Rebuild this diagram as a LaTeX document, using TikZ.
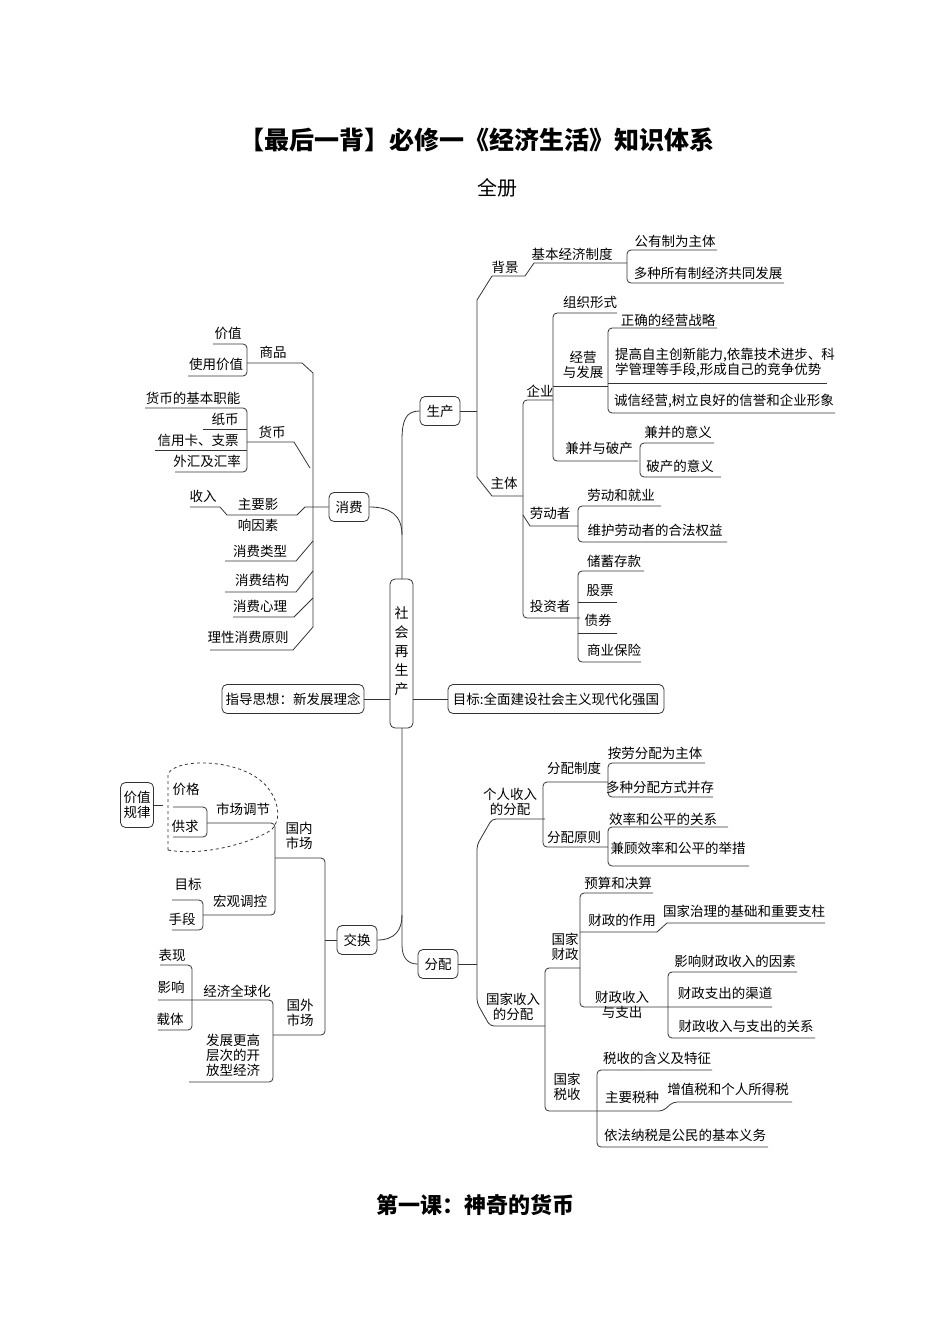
\documentclass[tikz,border=0pt]{standalone}
\usepackage{fontspec}
\setmainfont{Noto Sans CJK SC}
\begin{document}
\begin{tikzpicture}[x=1pt,y=-1pt,
  ln/.style={line width=0.8pt,draw=black!80},
  rc/.style={ln,rounded corners=4pt},
  tx/.style={font=\fontsize{13.5}{15}\selectfont,inner sep=0pt},
  bx/.style={draw=black!80,line width=0.8pt,rounded corners=5pt,font=\fontsize{13.5}{15}\selectfont,inner sep=3pt,minimum height=29pt}]
\useasboundingbox (0,0) rectangle (950,1344);
\newcommand\tx[3]{\node[tx,align=center] at (#1,#2) {#3};}
% titles
\node[font=\fontsize{25}{28}\selectfont\bfseries] (title) at (477,140) {【最后一背】必修一《经济生活》知识体系};
\node[font=\fontsize{20}{22}\selectfont] (sub) at (497,188) {全册};
\node[font=\fontsize{22}{25}\selectfont\bfseries] (foot) at (475,1205) {第一课：神奇的货币};
% center
\draw[ln,rounded corners=5pt] (390,579) rectangle (413,728);
\node[tx,align=center,font=\fontsize{14}{19}\selectfont] (core) at (401.5,651) {社\\会\\再\\生\\产};
\node[bx,minimum width=40pt] (sc) at (440,411) {生产};
\node[bx,minimum width=40pt] (xf) at (349,507) {消费};
\node[bx,minimum width=40pt] (jh) at (357,940) {交换};
\node[bx,minimum width=40pt] (fp) at (438,964) {分配};
\node[bx,minimum width=142pt] (zd) at (293,699) {指导思想：新发展理念};
\node[bx,minimum width=216pt] (mb) at (556,699) {目标:全面建设社会主义现代化强国};
\draw[ln] (zd.east) -- (390,699);
\draw[ln] (413,699) -- (mb.west);
\draw[ln] (sc.west) .. controls (406,411) and (402,420) .. (402,440) -- (402,579);
\draw[ln] (xf.east) .. controls (390,507) and (402,515) .. (402,535);
\draw[ln] (402,728) -- (402,945) .. controls (402,958) and (408,964) .. (fp.west);
\draw[ln] (jh.east) .. controls (395,940) and (402,930) .. (402,915);
% consumption
\tx{228}{333}{价值}\tx{216}{364}{使用价值}\tx{273}{352}{商品}
\draw[rc] (213,344)--(247,344)--(247,376)--(188,376);
\draw[ln] (247,363)--(302,363)--(313,373)--(313,627);
\tx{193}{398}{货币的基本职能}\tx{225}{419}{纸币}\tx{198}{440}{信用卡、支票}\tx{207}{461}{外汇及汇率}\tx{272}{432}{货币}
\draw[rc] (145,408)--(247,408)--(247,472)--(175,472);
\draw[ln] (203,429)--(247,429);\draw[ln] (155,450)--(247,450);
\draw[ln] (247,442)--(294,442)--(310,468);
\tx{203}{496}{收入}\tx{258}{504}{主要影}\tx{258}{525}{响因素}
\draw[ln] (190,507)--(220,507)--(227,515)--(297,515)--(305,507)--(xf.west);
\tx{260}{551}{消费类型}\draw[ln] (225,561)--(296,561)--(313,541);
\tx{262}{580}{消费结构}\draw[ln] (225,592)--(296,592)--(313,571);
\tx{260}{606}{消费心理}\draw[ln] (233,617)--(294,617)--(313,598);
\tx{248}{637}{理性消费原则}\draw[ln] (210,650)--(293,650)--(313,627);
% production
\draw[ln] (sc.east)--(477,411);
\draw[ln] (525,276)--(492,276)--(477,300)--(477,477)--(492,496)--(523,496);
\draw[ln] (525,276)--(534,263)--(627,263);
\tx{505}{267}{背景}\tx{572}{254}{基本经济制度}\tx{675}{241}{公有制为主体}\tx{708}{273}{多种所有制经济共同发展}
\draw[rc] (717,250)--(627,250)--(627,283)--(784,283);
\tx{504}{483}{主体}
\draw[rc] (553,400)--(523,400)--(523,618)--(580,618);
\tx{540}{391}{企业}
\draw[rc] (617,313)--(553,313)--(553,461)--(638,461);
\tx{590}{302}{组织形式}
\tx{583}{365}{经营\\与发展}
\draw[ln] (553,386)--(608,386);
\draw[rc] (717,328)--(608,328)--(608,413)--(835,413);
\draw[ln] (608,383)--(827,383);
\tx{668}{320}{正确的经营战略}
\node[tx,align=left,anchor=west] at (615,363) {提高自主创新能力,依靠技术进步、科\\学管理等手段,形成自己的竞争优势};
\tx{724}{401}{诚信经营,树立良好的信誉和企业形象}
\tx{599}{448}{兼并与破产}
\draw[rc] (714,443)--(640,443)--(640,477)--(721,477);
\tx{678}{432}{兼并的意义}\tx{680}{466}{破产的意义}
\tx{550}{513}{劳动者}
\draw[ln] (523,515)--(530,526)--(578,526);
\draw[rc] (661,506)--(578,506)--(578,542)--(727,542);
\tx{621}{495}{劳动和就业}\tx{655}{530}{维护劳动者的合法权益}
\tx{550}{606}{投资者}
\draw[rc] (644,571)--(578,571)--(578,662)--(641,662);
\draw[ln] (578,602)--(617,602);\draw[ln] (578,633)--(617,633);
\tx{614}{561}{储蓄存款}\tx{600}{591}{股票}\tx{598}{620}{债券}\tx{614}{650}{商业保险}
% exchange
\draw[ln] (jh.west)--(325,940);
\draw[rc] (275,858)--(325,858)--(325,1035)--(273,1035);
\tx{299}{836}{国内\\市场}\tx{300}{1013}{国外\\市场}
\draw[rc] (207,823)--(275,823)--(275,915)--(203,915);
\tx{243}{809}{市场调节}
\draw[rc] (173,807)--(207,807)--(207,837)--(173,837);
\tx{186}{789}{价格}\tx{185}{826}{供求}
\node[bx,minimum width=33pt,minimum height=45pt,align=center,inner sep=1pt] (jz) at (137,805) {价值\\规律};
\draw[ln] (jz.east)--(163,805);
\draw[ln,dashed] (168,850) -- (168,774) .. controls (176,757) and (245,758) .. (268,788) .. controls (282,806) and (280,826) .. (268,832) .. controls (245,845) and (200,856) .. (168,850);
\tx{240}{901}{宏观调控}
\draw[rc] (172,900)--(203,900)--(203,930)--(172,930);
\tx{188}{884}{目标}\tx{182}{919}{手段}
\draw[rc] (158,1000)--(273,1000)--(273,1082)--(189,1082);
\draw[rc] (160,965)--(192,965)--(192,1030)--(158,1030);
\tx{172}{955}{表现}\tx{171}{987}{影响}\tx{170}{1019}{载体}\tx{237}{991}{经济全球化}
\tx{233}{1055}{发展更高\\层次的开\\放型经济}
% distribution
\draw[ln] (fp.east)--(477,964);
\draw[rc] (545,819)--(492,819)--(477,845)--(477,1003)--(490,1026)--(545,1026);
\tx{510}{802}{个人收入\\的分配}\tx{513}{1007}{国家收入\\的分配}
\draw[rc] (608,782)--(543,782)--(543,847)--(608,847);
\tx{574}{768}{分配制度}\tx{574}{837}{分配原则}
\draw[rc] (705,763)--(608,763)--(608,797)--(713,797);
\draw[rc] (728,827)--(608,827)--(608,866)--(749,866);
\tx{655}{753}{按劳分配为主体}\tx{660}{787}{多种分配方式并存}
\tx{663}{819}{效率和公平的关系}\tx{678}{848}{兼顾效率和公平的举措}
\draw[rc] (580,968)--(545,968)--(545,1111)--(663,1111)--(673,1102)--(792,1102);
\tx{565}{947}{国家\\财政}\tx{567}{1087}{国家\\税收}
\draw[rc] (653,893)--(580,893)--(580,1007)--(772,1007);
\draw[ln] (580,932)--(657,932)--(667,923)--(825,923);
\tx{618}{883}{预算和决算}\tx{622}{920}{财政的作用}\tx{744}{911}{国家治理的基础和重要支柱}
\tx{622}{1005}{财政收入\\与支出}
\draw[rc] (797,972)--(668,972)--(668,1038)--(815,1038);
\tx{735}{961}{影响财政收入的因素}\tx{725}{993}{财政支出的渠道}\tx{746}{1026}{财政收入与支出的关系}
\draw[rc] (712,1070)--(597,1070)--(597,1147)--(768,1147);
\tx{657}{1058}{税收的含义及特征}\tx{632}{1097}{主要税种}\tx{728}{1089}{增值税和个人所得税}\tx{685}{1135}{依法纳税是公民的基本义务}
\end{tikzpicture}
\end{document}
